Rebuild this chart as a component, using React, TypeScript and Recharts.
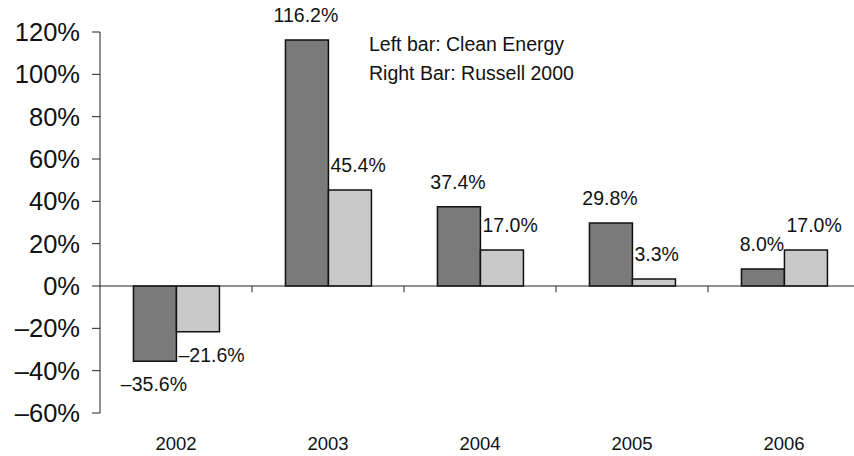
import { Bar, BarChart, Customized, LabelList, ReferenceLine, XAxis, YAxis } from 'recharts';

const years = ['2002', '2003', '2004', '2005', '2006'];
const cleanEnergy = [-35.6, 116.2, 37.4, 29.8, 8.0];
const russell2000 = [-21.6, 45.4, 17.0, 3.3, 17.0];
const yTicks = [-60, -40, -20, 0, 20, 40, 60, 80, 100, 120];
const legendLines = ['Left bar: Clean Energy', 'Right Bar: Russell 2000'];

const FONT = '"Liberation Sans", Arial, Helvetica, sans-serif';

const data = years.map((year, i) => ({
  year,
  clean: cleanEnergy[i],
  russell: russell2000[i],
}));

const pct = (v: number) => (v < 0 ? `\u2013${Math.abs(v)}%` : `${v}%`);
const pct1 = (v: number) => (v < 0 ? `\u2013${Math.abs(v).toFixed(1)}%` : `${v.toFixed(1)}%`);

const makeLabel = (align: 'middle' | 'start') => (props: any) => {
  const { x, y, width, height, value } = props;
  const top = Math.min(y, y + height);
  const bottom = Math.max(y, y + height);
  const ty = value < 0 ? bottom + 30 : top - 18;
  const tx = align === 'middle' ? x + width / 2 - 1 : x + 2;
  return (
    <text x={tx} y={ty} textAnchor={align} fontSize={19.5} fontFamily={FONT} fill="#111">
      {pct1(value)}
    </text>
  );
};

const Legend = () => (
  <g>
    {legendLines.map((t, i) => (
      <text key={t} x={369} y={51 + i * 28.5} fontSize={19.5} fontFamily={FONT} fill="#111">
        {t}
      </text>
    ))}
  </g>
);

const App = () => {
  return (
    <div style={{ position: 'absolute', left: 0, top: 0, width: 854, height: 456, overflow: 'hidden', background: '#fff' }}>
      <BarChart
        width={870}
        height={456}
        data={data}
        margin={{ top: 32, right: 10, bottom: 0, left: 0 }}
        barCategoryGap="22%"
        barGap={0}
      >
        <XAxis
          dataKey="year"
          height={43}
          axisLine={false}
          tickLine={false}
          tickSize={0}
          tickMargin={24}
          interval={0}
          tick={{ fontSize: 18.5, fontFamily: FONT, fill: '#111' }}
        />
        <YAxis
          width={100}
          domain={[-60, 120]}
          ticks={yTicks}
          interval={0}
          tickFormatter={pct}
          tickSize={8}
          tickMargin={12}
          axisLine={{ stroke: '#222' }}
          tickLine={{ stroke: '#222' }}
          tick={{ fontSize: 25.5, fontFamily: FONT, fill: '#111' }}
        />
        <Bar dataKey="clean" fill="#7a7a7a" stroke="#111" strokeWidth={1.5} isAnimationActive={false}>
          <LabelList dataKey="clean" content={makeLabel('middle')} />
        </Bar>
        <Bar dataKey="russell" fill="#c9c9c9" stroke="#111" strokeWidth={1.5} isAnimationActive={false}>
          <LabelList dataKey="russell" content={makeLabel('start')} />
        </Bar>
        <ReferenceLine y={0} stroke="#222" strokeWidth={1} />
        {years.slice(1).map((yr) => (
          <ReferenceLine
            key={yr}
            position="start"
            segment={[
              { x: yr, y: 0 },
              { x: yr, y: -3 },
            ]}
            stroke="#222"
          />
        ))}
        <Customized component={Legend} />
      </BarChart>
    </div>
  );
};

export default App;
